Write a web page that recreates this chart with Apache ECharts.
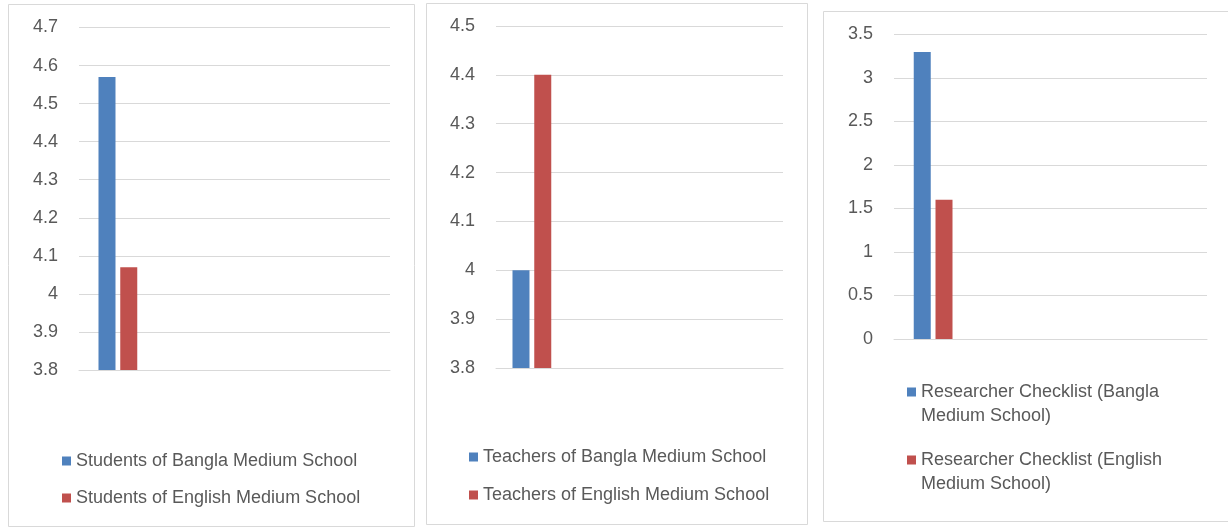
<!DOCTYPE html>
<html>
<head>
<meta charset="utf-8">
<script src="https://cdn.jsdelivr.net/npm/echarts@6/dist/echarts.min.js"></script>
<style>
html,body{margin:0;padding:0;background:#fff;}
#chart{width:1228px;height:529px;}
</style>
</head>
<body>
<div id="chart"></div>
<script>
// ---- data ----
const categories = ['1', '2', '3', '4'];

const studentsNames = ['Students of Bangla Medium School', 'Students of English Medium School'];
const studentsBangla = [4.57, null, null, null];
const studentsEnglish = [4.07, null, null, null];

const teachersNames = ['Teachers of Bangla Medium School', 'Teachers of English Medium School'];
const teachersBangla = [4.0, null, null, null];
const teachersEnglish = [4.4, null, null, null];

const checklistNames = ['Researcher Checklist (Bangla Medium School)', 'Researcher Checklist (English Medium School)'];
const checklistBangla = [3.3, null, null, null];
const checklistEnglish = [1.6, null, null, null];

const yRanges = [
  { min: 3.8, max: 4.7, interval: 0.1 },
  { min: 3.8, max: 4.5, interval: 0.1 },
  { min: 0, max: 3.5, interval: 0.5 }
];

// ---- styling ----
const BLUE = '#4f81bd', RED = '#c0504d', GRID = '#d9d9d9', TEXT = '#595959';
const FONT = 'Liberation Sans';

const grids = [
  { left: 79, top: 27.5, width: 311, height: 342.5 },
  { left: 496, top: 26, width: 287, height: 342 },
  { left: 894, top: 34.5, width: 313, height: 304.5 }
];

const chart = echarts.init(document.getElementById('chart'), null, { renderer: 'canvas' });

const xAxes = grids.map((g, i) => ({
  type: 'category', gridIndex: i, data: categories,
  axisLine: { show: true, lineStyle: { color: GRID, width: 1 } },
  axisTick: { show: false }, axisLabel: { show: false }, splitLine: { show: false }
}));
const yAxes = grids.map((g, i) => ({
  type: 'value', gridIndex: i,
  min: yRanges[i].min, max: yRanges[i].max, interval: yRanges[i].interval,
  axisLine: { show: false }, axisTick: { show: false },
  axisLabel: { color: TEXT, fontSize: 18, fontFamily: FONT, margin: 21 },
  splitLine: { show: true, lineStyle: { color: GRID, width: 1 } }
}));

function bar(name, data, color, idx) {
  return {
    type: 'bar', name: name, data: data, xAxisIndex: idx, yAxisIndex: idx,
    barWidth: 17, barGap: '28%',
    itemStyle: { color: color },
    emphasis: { disabled: true }
  };
}

const legendText = { color: TEXT, fontSize: 18, fontFamily: FONT, lineHeight: 20 };

const option = {
  backgroundColor: '#fff',
  animation: false,
  grid: grids.map(g => Object.assign({ containLabel: false }, g)),
  xAxis: xAxes,
  yAxis: yAxes,
  legend: [
    {
      data: studentsNames, orient: 'vertical', left: 62, top: 451, padding: 0,
      itemWidth: 9, itemHeight: 9, itemGap: 17, icon: 'rect',
      textStyle: legendText, selectedMode: false
    },
    {
      data: teachersNames, orient: 'vertical', left: 469, top: 447, padding: 0,
      itemWidth: 9, itemHeight: 9, itemGap: 18, icon: 'rect',
      textStyle: legendText, selectedMode: false
    },
    {
      data: checklistNames, orient: 'vertical', left: 907, top: 380, padding: 0,
      itemWidth: 9, itemHeight: 33, itemGap: 20,
      icon: 'path://M0,0L9,0L9,9L0,9Z M0,33L0.001,33L0,33Z',
      textStyle: { color: TEXT, fontSize: 18, fontFamily: FONT, lineHeight: 24 },
      formatter: function (n) { return n.replace(' Medium', '\nMedium'); },
      selectedMode: false
    }
  ],
  graphic: [
    { type: 'rect', shape: { x: 8.5, y: 4.5, width: 406, height: 522 }, style: { fill: null, stroke: GRID, lineWidth: 1 }, silent: true, z: -1 },
    { type: 'rect', shape: { x: 426.5, y: 3.5, width: 381, height: 521 }, style: { fill: null, stroke: GRID, lineWidth: 1 }, silent: true, z: -1 },
    { type: 'rect', shape: { x: 823.5, y: 11.5, width: 410, height: 510 }, style: { fill: null, stroke: GRID, lineWidth: 1 }, silent: true, z: -1 }
  ],
  series: [
    bar(studentsNames[0], studentsBangla, BLUE, 0),
    bar(studentsNames[1], studentsEnglish, RED, 0),
    bar(teachersNames[0], teachersBangla, BLUE, 1),
    bar(teachersNames[1], teachersEnglish, RED, 1),
    bar(checklistNames[0], checklistBangla, BLUE, 2),
    bar(checklistNames[1], checklistEnglish, RED, 2)
  ]
};
chart.setOption(option);
</script>
</body>
</html>
